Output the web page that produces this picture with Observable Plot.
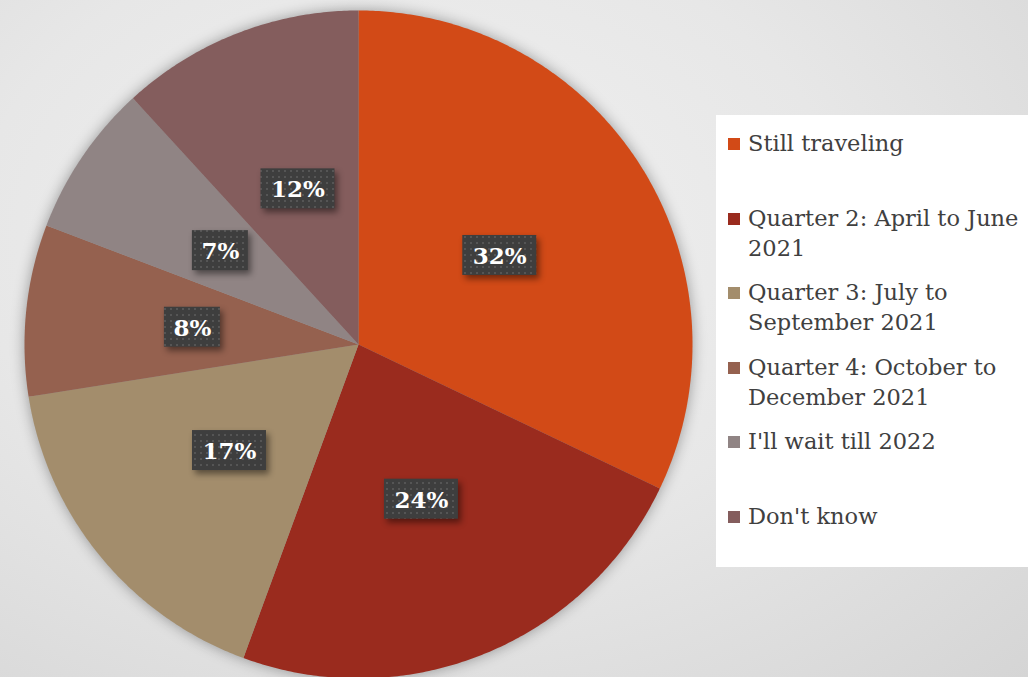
<!DOCTYPE html>
<html><head><meta charset="utf-8">
<script src="https://cdn.jsdelivr.net/npm/d3@7"></script>
<script src="https://cdn.jsdelivr.net/npm/@observablehq/plot@0.6"></script>
<style>
html,body{margin:0;padding:0;}
body{width:1028px;height:677px;overflow:hidden;position:relative;
  background:radial-gradient(ellipse at 40% 35%, #f1f1f1 0%, #e7e7e7 50%, #d5d5d5 100%);
  font-family:"DejaVu Serif",serif;}
#chart{position:absolute;left:0;top:0;}
#legend{position:absolute;left:716px;top:115px;width:312px;height:452px;background:#fff;overflow:hidden;}
.item{position:absolute;left:12px;width:310px;display:flex;align-items:flex-start;}
.sw{width:12px;height:12px;margin-top:10px;margin-right:8px;flex:none;}
.tx{font-size:22.5px;line-height:30px;color:#404040;width:292px;}
</style></head>
<body>
<div id="chart"></div>
<div id="legend"></div>
<script>
const categories = ["Still traveling","Quarter 2: April to June 2021","Quarter 3: July to September 2021","Quarter 4: October to December 2021","I'll wait till 2022","Don't know"];
const shares = [32.1, 23.5, 16.9, 8.3, 7.4, 11.8];
const colors = ["#D24A17","#9A2B1E","#A38D6C","#95614F","#908484","#845D5D"];
const labels = ["32%","24%","17%","8%","7%","12%"];

const arcs = d3.pie().sort(null).value(d => d)(shares);
const slicePts = [];
const labelPts = [];
arcs.forEach((a, i) => {
  slicePts.push({cat: categories[i], x: 0, y: 0});
  const n = Math.max(2, Math.ceil((a.endAngle - a.startAngle) / (Math.PI / 360)));
  for (let k = 0; k <= n; k++) {
    const t = a.startAngle + (a.endAngle - a.startAngle) * k / n;
    slicePts.push({cat: categories[i], x: Math.sin(t), y: Math.cos(t)});
  }
  const m = (a.startAngle + a.endAngle) / 2;
  labelPts.push({label: labels[i], x: 0.5 * Math.sin(m), y: 0.5 * Math.cos(m)});
});

const defs = () => {
  const d = d3.create("svg:defs");
  const p = d.append("pattern").attr("id", "dots").attr("width", 6).attr("height", 6).attr("patternUnits", "userSpaceOnUse");
  p.append("rect").attr("width", 6).attr("height", 6).attr("fill", "#3e3e3e");
  p.append("rect").attr("x", 2).attr("y", 2).attr("width", 2).attr("height", 2).attr("fill", "#555");
  return d.node();
};

const chart = Plot.plot({
  width: 1028, height: 677,
  marginTop: 0, marginBottom: 0, marginLeft: 0, marginRight: 0,
  style: {background: "transparent", overflow: "visible"},
  x: {domain: [-1, 1], range: [24, 692], axis: null},
  y: {domain: [-1, 1], range: [678, 10], axis: null},
  color: {domain: categories, range: colors},
  marks: [
    defs,
    Plot.line(slicePts, {x: "x", y: "y", z: "cat", fill: "cat", stroke: null, curve: "linear"}),
    Plot.rect(labelPts.filter(d => d.label.length === 3), {x1: "x", x2: "x", y1: "y", y2: "y",
      insetLeft: -37, insetRight: -37, insetTop: -20, insetBottom: -20, fill: "url(#dots)"}),
    Plot.rect(labelPts.filter(d => d.label.length === 2), {x1: "x", x2: "x", y1: "y", y2: "y",
      insetLeft: -28, insetRight: -28, insetTop: -20, insetBottom: -20, fill: "url(#dots)"}),
    Plot.text(labelPts, {x: "x", y: "y", text: "label", fill: "white", fontSize: 23, fontWeight: "bold",
      fontFamily: "DejaVu Serif", dy: 1})
  ]
});
document.getElementById("chart").appendChild(chart);
const gs = d3.select(chart).selectAll("g[aria-label]");
gs.filter(function(){return this.getAttribute("aria-label") === "line";})
  .style("filter", "drop-shadow(0px 0px 7px rgba(0,0,0,0.35))");
gs.filter(function(){return this.getAttribute("aria-label") === "rect";})
  .style("filter", "drop-shadow(3px 4px 3px rgba(0,0,0,0.45))");

const legend = d3.select("#legend");
categories.forEach((c, i) => {
  const it = legend.append("div").attr("class", "item").style("top", (13 + i * 74.5) + "px");
  it.append("div").attr("class", "sw").style("background", colors[i]);
  it.append("div").attr("class", "tx").text(c);
});
</script>
</body></html>
